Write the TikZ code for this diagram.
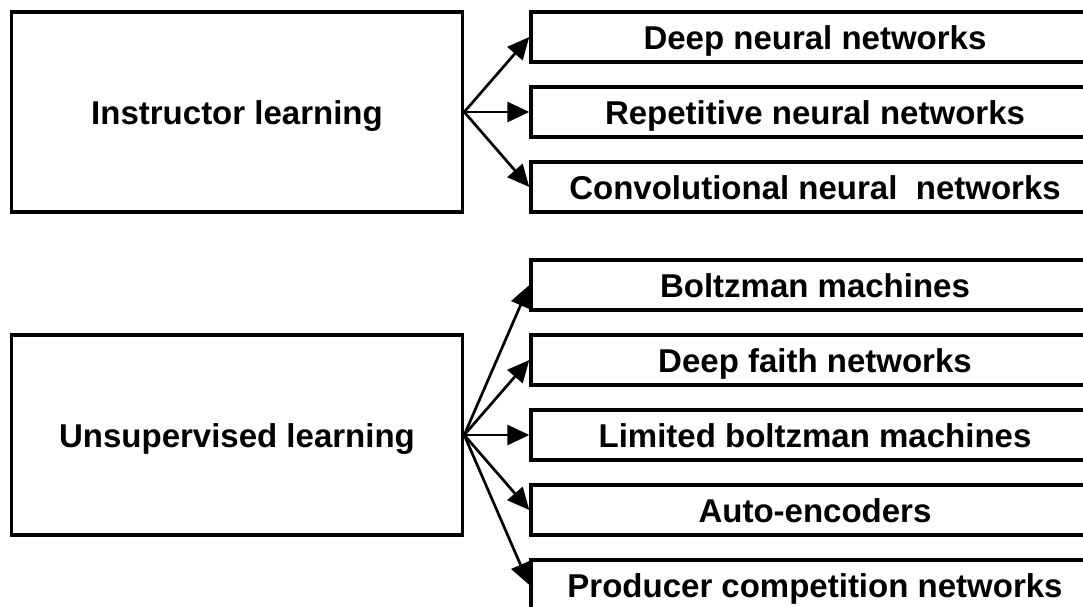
\documentclass[tikz,border=0pt]{standalone}
\usepackage{fontspec}
\setmainfont{Liberation Sans}
\usetikzlibrary{arrows.meta}

\tikzset{rootbox/.style={draw,line width=3.4pt,minimum width=451pt,minimum height=200pt,
                         text height=24pt,text depth=0pt},
         leafbox/.style={draw,line width=3.4pt,minimum width=568pt,minimum height=50pt,
                         text height=24pt,text depth=0pt},
         edge from parent/.style=
         {draw,line width=2.7pt,-{Triangle[length=22pt,width=20pt]},
          edge from parent path={(\tikzparentnode.east) -- (\tikzchildnode.west)}},
         level distance=578pt}

\begin{document}
\begin{tikzpicture}[font=\fontsize{33pt}{40pt}\selectfont\bfseries]
\useasboundingbox (0,0) rectangle (1083pt,-606pt);
\clip (0,0) rectangle (1083pt,-606pt);
 \node [rootbox] (sup) at (237pt,-112pt) {Instructor learning} [grow'=right,sibling distance=75pt]
child {node [leafbox] (dnn) {Deep neural networks}}
child {node [leafbox] (rnn) {Repetitive neural networks}}
child {node [leafbox] (cnn) {Convolutional neural~ networks}};
 \node [rootbox] (unsup) at (237pt,-435pt) {Unsupervised learning} [grow'=right,sibling distance=75pt]
child {node [leafbox] (bm) {Boltzman machines}}
child {node [leafbox] (dbn) {Deep faith networks}}
child {node [leafbox] (rbm) {Limited boltzman machines}}
child {node [leafbox] (ae) {Auto-encoders}}
child {node [leafbox] (gan) {Producer competition networks}};
\end{tikzpicture}
\end{document}
